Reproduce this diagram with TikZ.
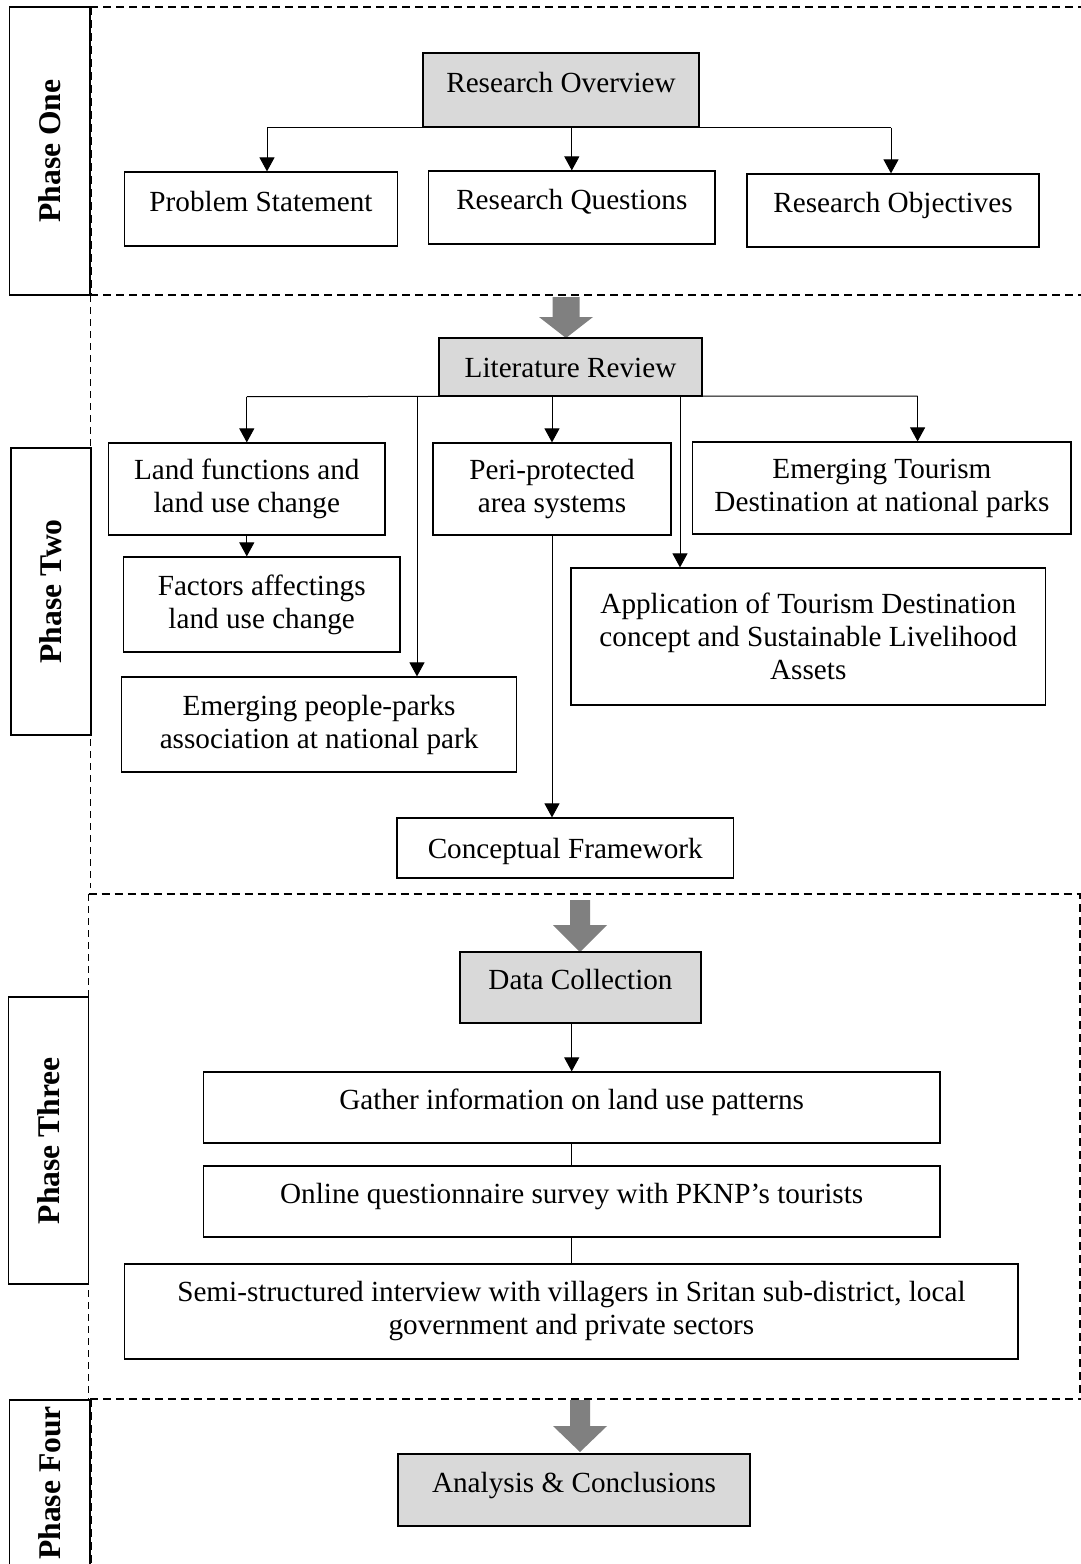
\documentclass[tikz,border=0pt]{standalone}
\usepackage{fontspec}
\setmainfont{Liberation Serif}
\usepackage{xcolor}
\usetikzlibrary{arrows.meta}
\definecolor{boxgrey}{HTML}{D9D9D9}
\definecolor{arrowgrey}{HTML}{808080}

\begin{document}
\begin{tikzpicture}[x=0.5pt,y=-0.5pt,
    box/.style={draw,fill=white,line width=0.6pt,inner sep=0pt,align=center,font=\fontsize{14.6}{16.5}\selectfont},
    greybox/.style={box,fill=boxgrey},
    lift/.style={text height=10pt,text depth=8pt},
    flat/.style={text height=10pt,text depth=0pt},
    phasebox/.style={draw,fill=white,line width=0.6pt,inner sep=0pt,rotate=90,font=\fontsize{15.8}{18}\selectfont\bfseries},
    dashframe/.style={line width=1pt,dash pattern=on 4pt off 2.5pt},
    thinframe/.style={line width=0.6pt,dash pattern=on 3.5pt off 2.5pt},
    link/.style={line width=0.5pt},
    tiparrow/.style={link,-{Triangle[length=7pt,width=7.5pt]}},
    blockarrow/.style={fill=arrowgrey}]
    \useasboundingbox (0,0) rectangle (1081,1564);

    % Phase frames
    \draw[dashframe] (90,7) -- (1081,7);
    \draw[dashframe] (90,295) -- (1081,295);
    \draw[dashframe] (90.5,7) -- (90.5,295);
    \draw[thinframe] (90.5,295) -- (90.5,888);
    \draw[dashframe] (88.6,894) -- (1079.6,894) -- (1079.6,1399);
    \draw[thinframe] (88.6,894) -- (88.6,1399);
    \draw[dashframe] (90,1399) -- (1081,1399);
    \draw[dashframe] (90.5,1399) -- (90.5,1564);

    % Phase labels
    \node[phasebox,minimum width=144pt,minimum height=40.15pt] (p1) at (49.85,151) {Phase One};
    \node[phasebox,minimum width=143.5pt,minimum height=40pt] (p2) at (51,591.5) {Phase Two};
    \node[phasebox,minimum width=143.5pt,minimum height=40.15pt] (p3) at (48.45,1140.5) {Phase Three};
    \node[phasebox,minimum width=83pt,minimum height=40.15pt] (p4) at (49.85,1483) {Phase Four};

    % Phase one
    \node[greybox,lift,minimum width=138pt,minimum height=37pt] (ro) at (561,90) {Research Overview};
    \node[box,lift,minimum width=136.5pt,minimum height=37pt] (ps) at (261,209) {Problem Statement};
    \node[box,lift,minimum width=143.2pt,minimum height=36.5pt] (rq) at (571.8,207.5) {Research Questions};
    \node[box,lift,minimum width=146pt,minimum height=36.5pt] (rob) at (893,210.5) {Research Objectives};
    \draw[link] ([xshift=3pt]ps.north |- ro.south) -- ([xshift=-1pt]rob.north |- ro.south);
    \draw[tiparrow] ([xshift=3pt]ps.north |- ro.south) -- ([xshift=3pt]ps.north);
    \draw[tiparrow] (rq.north |- ro.south) -- (rq.north);
    \draw[tiparrow] ([xshift=-1pt]rob.north |- ro.south) -- ([xshift=-1pt]rob.north);

    % Phase two
    \fill[blockarrow] (552.5,297) -- (579.5,297) -- (579.5,317) -- (593,317) -- (566,338) -- (539,317) -- (552.5,317) -- cycle;
    \node[greybox,flat,minimum width=131.5pt,minimum height=29pt] (lr) at (570.5,367) {Literature Review};
    \node[box,minimum width=138.2pt,minimum height=46pt] (lf) at (246.8,489) {Land functions and\\land use change};
    \node[box,minimum width=138.3pt,minimum height=47.5pt] (fa) at (261.7,604.5) {Factors affectings\\land use change};
    \node[box,minimum width=197.4pt,minimum height=47.5pt] (ep) at (319.1,724.5) {Emerging people-parks\\association at national park};
    \node[box,minimum width=119pt,minimum height=46pt] (pp) at (552,489) {Peri-protected\\area systems};
    \node[box,minimum width=189.1pt,minimum height=46pt] (et) at (881.9,488) {Emerging Tourism\\Destination at national parks};
    \node[box,minimum width=237.25pt,minimum height=68.5pt] (ap) at (808.25,636.5) {Application of Tourism Destination\\concept and Sustainable Livelihood\\Assets};
    \node[box,flat,minimum width=168.2pt,minimum height=30pt] (cf) at (565.2,848) {Conceptual Framework};
    \coordinate (epdrop) at (417,396);
    \coordinate (apdrop) at (680,396);
    \coordinate (etdrop) at (917.6,396);
    \draw[link] (lf.north |- lr.south) -- (etdrop);
    \draw[tiparrow] (lf.north |- lr.south) -- (lf.north);
    \draw[tiparrow] (epdrop) -- (epdrop |- ep.north);
    \draw[tiparrow] (pp.north |- lr.south) -- (pp.north);
    \draw[tiparrow] (apdrop) -- (apdrop |- ap.north);
    \draw[tiparrow] (etdrop) -- (etdrop |- et.north);
    \draw[tiparrow] (lf.south) -- (lf.south |- fa.north);
    \draw[tiparrow] (pp.south) -- (pp.south |- cf.north);

    % Phase three
    \fill[blockarrow] (570,900) -- (590,900) -- (590,925) -- (607,925) -- (580,952) -- (553,925) -- (570,925) -- cycle;
    \node[greybox,lift,minimum width=120.5pt,minimum height=35.5pt] (dc) at (580.5,987.5) {Data Collection};
    \node[box,lift,minimum width=368.3pt,minimum height=35.5pt] (gi) at (571.7,1107.5) {Gather information on land use patterns};
    \node[box,lift,minimum width=368.3pt,minimum height=35.5pt] (oq) at (571.7,1201.5) {Online questionnaire survey with PKNP’s tourists};
    \node[box,minimum width=446.6pt,minimum height=47.5pt] (ss) at (571.4,1311.5) {Semi-structured interview with villagers in Sritan sub-district, local\\government and private sectors};
    \draw[tiparrow] (gi.north |- dc.south) -- (gi.north);
    \draw[link] (gi.south) -- (oq.north);
    \draw[link] (oq.south) -- (oq.south |- ss.north);

    % Phase four
    \fill[blockarrow] (570,1400) -- (590,1400) -- (590,1426) -- (607,1426) -- (580,1452) -- (553,1426) -- (570,1426) -- cycle;
    \node[greybox,lift,minimum width=176pt,minimum height=36pt] (an) at (574,1490) {Analysis \& Conclusions};
\end{tikzpicture}
\end{document}
